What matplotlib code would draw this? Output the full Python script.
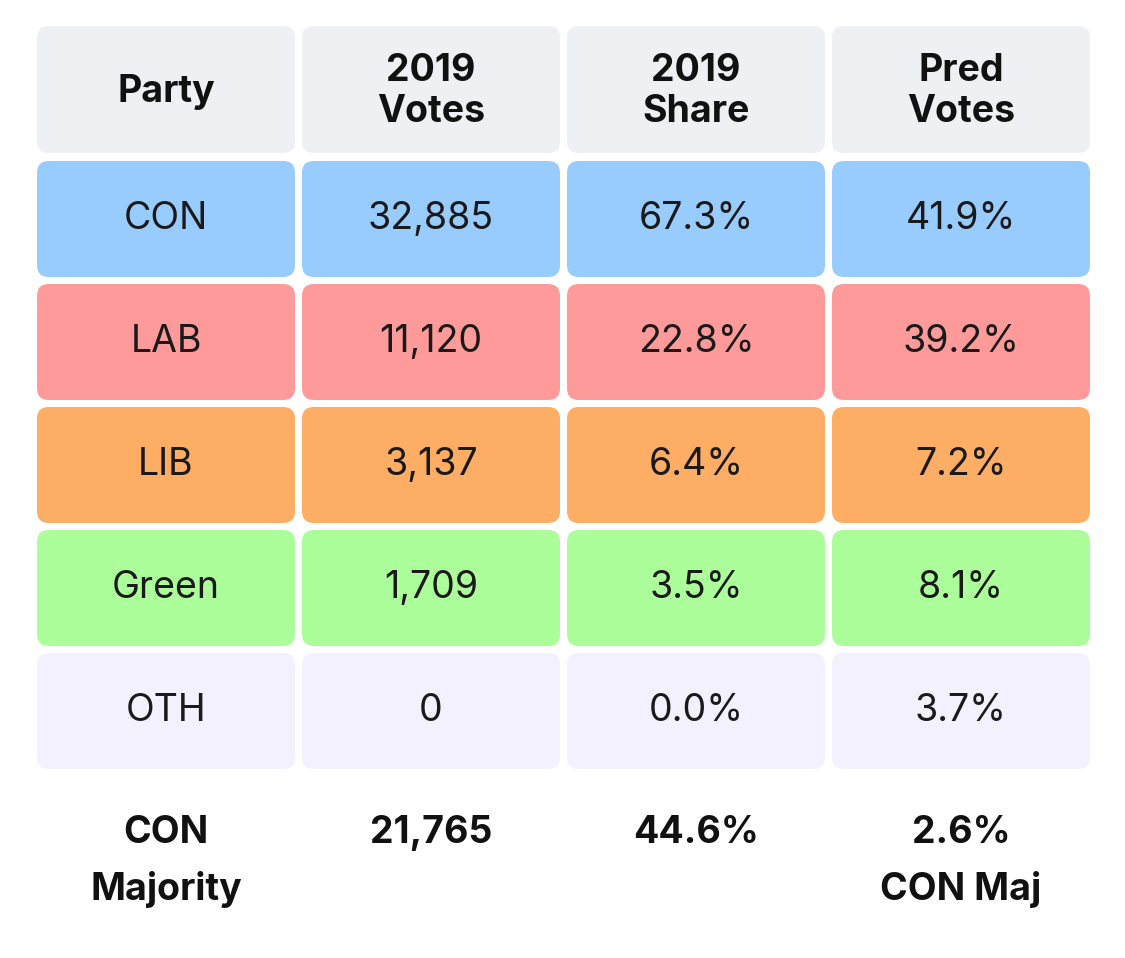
import matplotlib.pyplot as plt
from matplotlib.patches import FancyBboxPatch

plt.rcParams['font.family'] = ['Inter', 'DejaVu Sans']

# table content
headers = ['Party', '2019\nVotes', '2019\nShare', 'Pred\nVotes']
parties = ['CON', 'LAB', 'LIB', 'Green', 'OTH']
votes_2019 = ['32,885', '11,120', '3,137', '1,709', '0']
share_2019 = ['67.3%', '22.8%', '6.4%', '3.5%', '0.0%']
pred_votes = ['41.9%', '39.2%', '7.2%', '8.1%', '3.7%']
footer = ['CON\nMajority', '21,765', '44.6%', '2.6%\nCON Maj']

row_colors = ['#99ccfe', '#fe9a9a', '#fead65', '#abfe99', '#f3f1fd']
header_color = '#eff0f4'

fig = plt.figure(figsize=(11.25, 9.58), dpi=100)
ax = fig.add_axes([0, 0, 1, 1])
ax.set_xlim(0, 1125)
ax.set_ylim(958, 0)
ax.axis('off')

# grid geometry (pixels)
x0, cw, cstep = 37, 258, 265
hy0, hh = 26, 127
ry0, rh, rstep = 161, 116, 123


def cell(x, y, w, h, color):
    ax.add_patch(FancyBboxPatch((x, y), w, h,
                                boxstyle='round,pad=0,rounding_size=12',
                                fc=color, ec='none'))


# header row
for j, label in enumerate(headers):
    x = x0 + j * cstep
    cell(x, hy0, cw, hh, header_color)
    ax.text(x + cw / 2, hy0 + hh / 2 + 2, label, ha='center', va='center',
            fontsize=27, fontweight='bold', color='#111111', linespacing=1.2)

# body rows
for i, party in enumerate(parties):
    y = ry0 + i * rstep
    vals = [party, votes_2019[i], share_2019[i], pred_votes[i]]
    for j, v in enumerate(vals):
        x = x0 + j * cstep
        cell(x, y, cw, rh, row_colors[i])
        ax.text(x + cw / 2, y + rh / 2, v, ha='center', va='center',
                fontsize=27, color='#1a1a1a')

# footer
for j, label in enumerate(footer):
    x = x0 + j * cstep
    ax.text(x + cw / 2, 815, label, ha='center', va='top',
            fontsize=27, fontweight='bold', color='#111111', linespacing=1.7)

fig.savefig('out.png', dpi=100, facecolor='white')
